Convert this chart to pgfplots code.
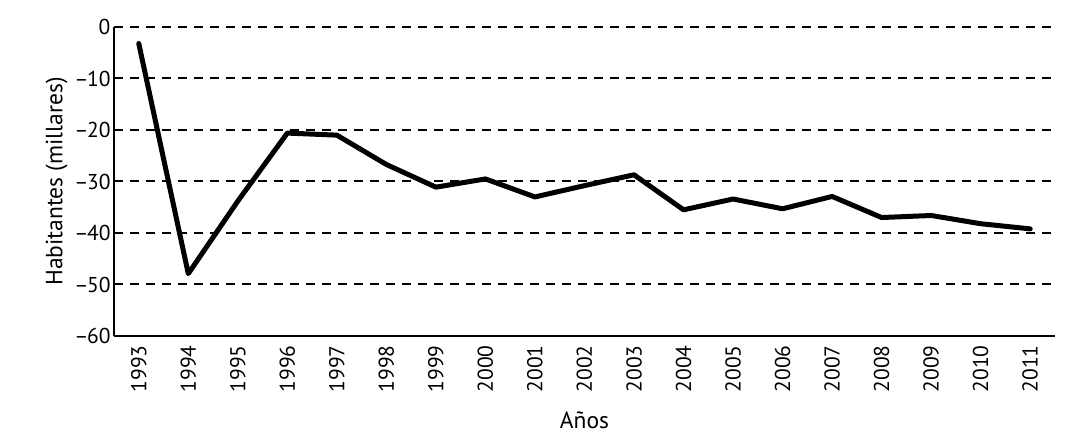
\documentclass[border=0pt]{standalone}
\usepackage{pgfplots}
\pgfplotsset{compat=1.18}
\usepackage{fontspec}
\setmainfont{PT Sans}
\newcommand{\mn}{--\kern-1.5pt}
\begin{document}
\begin{tikzpicture}
\begin{axis}[
  scale only axis, width=941pt, height=309pt,
  xmin=1992.5, xmax=2011.5, ymin=-60, ymax=0,
  axis x line*=bottom, axis y line*=left,
  axis line style={-, line width=2.5pt},
  xtick={1993,...,2011},
  xticklabels={1993,1994,1995,1996,1997,1998,1999,2000,2001,2002,2003,2004,2005,2006,2007,2008,2009,2010,2011},
  ytick={-60,-50,-40,-30,-20,-10,0},
  yticklabels={\mn60,\mn50,\mn40,\mn30,\mn20,\mn10,0},
  xticklabel shift=6pt,
  x tick label style={rotate=90, anchor=east, font=\fontsize{21.5}{24}\selectfont},
  y tick label style={font=\fontsize{21.5}{24}\selectfont},
  major tick length=0pt,
  ymajorgrids,
  grid style={line width=2pt, dash pattern=on 9pt off 7pt, black},
  xlabel={Años}, ylabel={Habitantes (millares)},
  label style={font=\fontsize{23.5}{26}\selectfont},
  xlabel style={yshift=-12pt},
  clip=false,
]
\addplot[black, line width=5pt, line join=round, line cap=round] coordinates {
(1993,-3.2) (1994,-47.9) (1995,-33.8) (1996,-20.6) (1997,-21.0) (1998,-26.7)
(1999,-31.1) (2000,-29.5) (2001,-33.0) (2002,-30.8) (2003,-28.7) (2004,-35.5)
(2005,-33.4) (2006,-35.3) (2007,-32.9) (2008,-37.0) (2009,-36.6) (2010,-38.2)
(2011,-39.2)};
\end{axis}
\pgfresetboundingbox
\path[use as bounding box] ([shift={(-114pt,-110pt)}]current axis.south west) rectangle ([shift={(27pt,27pt)}]current axis.north east);
\end{tikzpicture}
\end{document}
